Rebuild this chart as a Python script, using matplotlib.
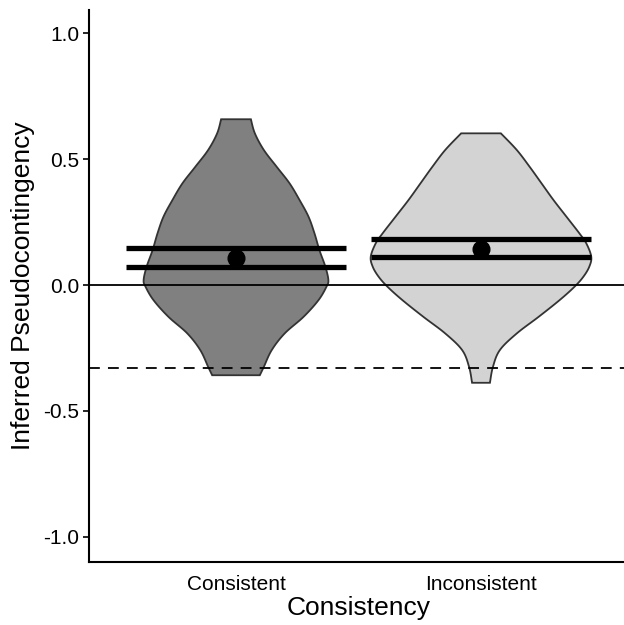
import matplotlib
matplotlib.use("Agg")
import matplotlib.pyplot as plt
import numpy as np

plt.rcParams['font.family'] = ['Liberation Sans', 'DejaVu Sans']

categories = ["Consistent", "Inconsistent"]

# violin outlines: y values and relative density
cons_y = [0.659, 0.603, 0.537, 0.470, 0.404, 0.338, 0.272, 0.206, 0.139, 0.073, 0.020,
          -0.007, -0.060, -0.126, -0.192, -0.258, -0.325, -0.358]
cons_d = [15, 19, 28, 41, 54, 64, 73, 79, 84, 90, 93, 91, 83, 68, 49, 36, 28, 24]

inc_y = [0.603, 0.537, 0.470, 0.404, 0.338, 0.272, 0.206, 0.166, 0.113, 0.073, 0.033,
         -0.007, -0.060, -0.126, -0.192, -0.258, -0.325, -0.388]
inc_d = [20, 36, 49, 61, 73, 86, 99, 106, 111, 109, 103, 94, 79, 58, 36, 19, 12, 9]

means = [0.107, 0.143]
ci_low = [0.072, 0.111]
ci_high = [0.147, 0.183]

chance_level = -0.33

y_ticks = [-1.0, -0.5, 0.0, 0.5, 1.0]
y_tick_labels = ["-1.0", "-0.5", "0.0", "0.5", "1.0"]

fills = ["#808080", "#d3d3d3"]


def smooth_outline(ys, ws, n=20):
    """Catmull-Rom curve through the outline points (drawing only)."""
    P = np.column_stack([ws, ys]).astype(float)
    P = np.vstack([P[0], P, P[-1]])
    out = []
    t = np.linspace(0, 1, n, endpoint=False)
    for k in range(1, len(P) - 2):
        p0, p1, p2, p3 = P[k - 1], P[k], P[k + 1], P[k + 2]
        t2, t3 = t * t, t * t * t
        seg = 0.5 * ((2 * p1)[None, :] + (-p0 + p2)[None, :] * t[:, None]
                     + (2 * p0 - 5 * p1 + 4 * p2 - p3)[None, :] * t2[:, None]
                     + (-p0 + 3 * p1 - 3 * p2 + p3)[None, :] * t3[:, None])
        out.append(seg)
    out.append(P[-2][None, :])
    out = np.vstack(out)
    return out[:, 1], out[:, 0]


fig = plt.figure(figsize=(6.24, 6.25), dpi=100)
ax = fig.add_axes([89/624, (625-562)/625, (628-89)/624, (562-9.5)/625])

dmax = max(max(cons_d), max(inc_d))
for i, (ys, ds) in enumerate([(cons_y, cons_d), (inc_y, inc_d)]):
    x0 = i + 1
    hw = np.array(ds) / dmax * 0.45
    sy, sw = smooth_outline(np.array(ys), hw)
    px = np.concatenate([x0 - sw, (x0 + sw)[::-1]])
    py = np.concatenate([sy, sy[::-1]])
    ax.fill(px, py, facecolor=fills[i], edgecolor="#333333", linewidth=1.3, zorder=2)

ax.axhline(0, color="black", lw=1.3, zorder=3)
ax.axhline(chance_level, color="black", lw=1.3, ls=(0, (6, 4.5)), zorder=3)

for i in range(2):
    x0 = i + 1
    ax.hlines([ci_low[i], ci_high[i]], x0 - 0.45, x0 + 0.45, color="black", lw=3.8, zorder=4)
    ax.plot([x0], [means[i]], "o", color="black", ms=12, zorder=5)

ax.set_xlim(0.4, 2.6)
ax.set_ylim(-1.1, 1.095)
ax.set_xticks([1, 2])
ax.set_xticklabels(categories, fontsize=15)
ax.set_yticks(y_ticks)
ax.set_yticklabels(y_tick_labels, fontsize=15)
ax.tick_params(axis='x', length=0, pad=9)
ax.tick_params(axis='y', length=4, width=1.2, pad=3)
for s in ["top", "right"]:
    ax.spines[s].set_visible(False)
for s in ["left", "bottom"]:
    ax.spines[s].set_linewidth(1.5)
ax.set_xlabel("Consistency", fontsize=19, labelpad=2)
ax.set_ylabel("Inferred Pseudocontingency", fontsize=19, labelpad=6)

fig.savefig("out.png", dpi=100)
